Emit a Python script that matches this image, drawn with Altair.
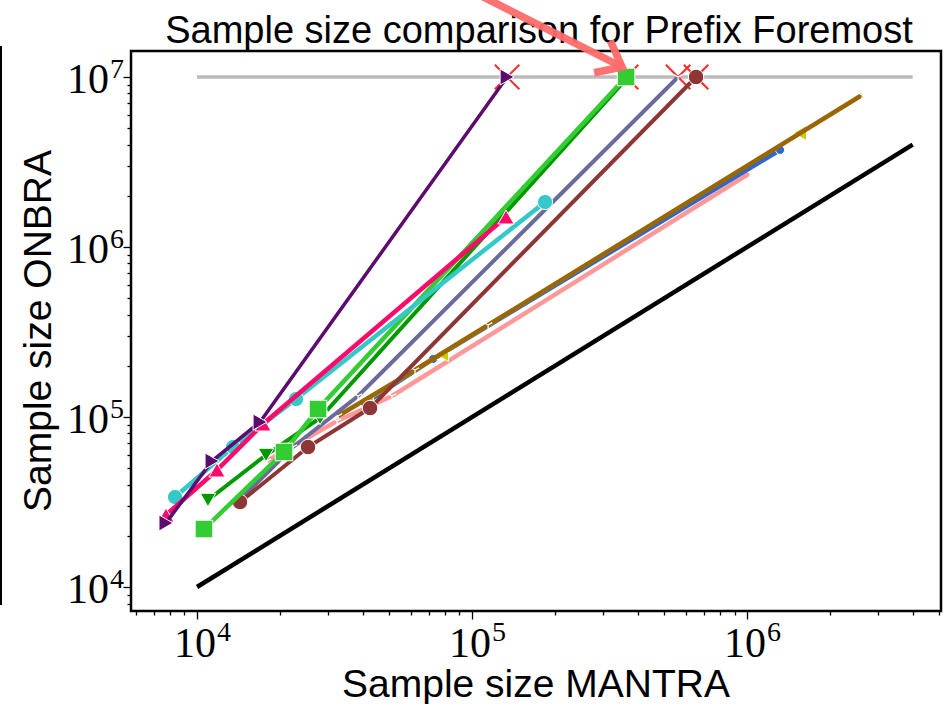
import altair as alt
import pandas as pd

# ---------------- data ----------------
purple_x = [7710, 11340, 16950, 134100]
purple_y = [23800, 55100, 93450, 1.0e7]
pink_x = [7710, 11820, 17380, 132900]
pink_y = [26520, 48780, 90950, 1.501e6]
cyan_x = [8318, 13520, 22910, 184300]
cyan_y = [33840, 66600, 127600, 1.839e6]
lime_x = [10600, 20720, 27540, 363100]
lime_y = [21940, 62260, 111400, 1.0e7]
dgreen_x = [10960, 17820, 28010, 369300]
dgreen_y = [32500, 59770, 98650, 1.0e7]
slate_x = [14330, 22340, 38510, 561300]
slate_y = [32500, 66600, 132900, 1.0e7]
brown_x = [14330, 25330, 42570, 652300]
brown_y = [31620, 66600, 112900, 1.0e7]
olive_x = [32560, 62030, 114400, 2.619e6]
olive_y = [101400, 189000, 347700, 7.838e6]
yellow_x = [41510, 77800, 1.558e6]
yellow_y = [125900, 234800, 4.685e6]
blue_x = [40820, 72150, 1.318e6]
blue_y = [120900, 219400, 3.721e6]
salmon_x = [17970, 32290, 51190, 1.025e6]
salmon_y = [55100, 94740, 132900, 2.724e6]

timeout_x = [134100, 363100, 561300, 652300]
timeout_y = [1.0e7, 1.0e7, 1.0e7, 1.0e7]

diag_x = [1.0e4, 4.0e6]
diag_y = [1.0e4, 4.0e6]
cap_x = [1.0e4, 4.0e6]
cap_y = [1.0e7, 1.0e7]

arrow_x = [96000, 351300]
arrow_y = [3.3e7, 1.145e7]

x_ticks = [6000, 7000, 8000, 9000,
           1e4, 2e4, 3e4, 4e4, 5e4, 6e4, 7e4, 8e4, 9e4,
           1e5, 2e5, 3e5, 4e5, 5e5, 6e5, 7e5, 8e5, 9e5,
           1e6, 2e6, 3e6, 4e6, 5e6]
y_ticks = [8000, 9000,
           1e4, 2e4, 3e4, 4e4, 5e4, 6e4, 7e4, 8e4, 9e4,
           1e5, 2e5, 3e5, 4e5, 5e5, 6e5, 7e5, 8e5, 9e5,
           1e6, 2e6, 3e6, 4e6, 5e6, 6e6, 7e6, 8e6, 9e6,
           1e7]

x_label_vals = [1e4, 1e5, 1e6]
x_label_exp = ["4", "5", "6"]
y_label_vals = [1e4, 1e5, 1e6, 1e7]
y_label_exp = ["4", "5", "6", "7"]

TITLE = "Sample size comparison for Prefix Foremost"
X_TITLE = "Sample size MANTRA"
Y_TITLE = "Sample size ONBRA"

X_DOMAIN = [5754, 5.07e6]
Y_DOMAIN = [7228, 1.422e7]

W, H = 810, 560

# ---------------- styling helpers ----------------
SANS = "Liberation Sans"
SERIF = "Liberation Serif"

major = "abs(log(datum.value)/LN10 - round(log(datum.value)/LN10)) < 0.001"
tick_size = {"condition": {"test": major, "value": 8}, "value": 4}

xaxis = alt.Axis(values=x_ticks, labels=False, title=None, grid=False, domain=False,
                 tickColor="black", tickWidth=1.3, tickSize=tick_size)
yaxis = alt.Axis(values=y_ticks, labels=False, title=None, grid=False, domain=False,
                 tickColor="black", tickWidth=1.3, tickSize=tick_size)

xs = alt.Scale(type="log", domain=X_DOMAIN, nice=False)
ys = alt.Scale(type="log", domain=Y_DOMAIN, nice=False)
X = alt.X("x:Q", scale=xs, axis=xaxis)
Y = alt.Y("y:Q", scale=ys, axis=yaxis)


def frame(xv, yv):
    return pd.DataFrame({"x": xv, "y": yv, "i": list(range(len(xv)))})


def line(xv, yv, color, width=4.5, opacity=1.0):
    return alt.Chart(frame(xv, yv)).mark_line(
        color=color, strokeWidth=width, opacity=opacity, clip=False
    ).encode(x=X, y=Y, order="i:Q")


def pts(xv, yv, color, shape, size, edge="white"):
    return alt.Chart(frame(xv, yv)).mark_point(
        shape=shape, filled=True, fill=color, stroke=edge, strokeWidth=1,
        size=size, opacity=1
    ).encode(x=X, y=Y)


TRI = "M 0 1 L 0 0 M 0 0 L -0.87 -0.5 M 0 0 L 0.87 -0.5"


def tri(xv, yv, size=90):
    return alt.Chart(frame(xv, yv)).mark_point(
        shape=TRI, filled=False, stroke="white", strokeWidth=1.2, size=size, opacity=1
    ).encode(x=X, y=Y)


layers = []
# reference lines
layers.append(line(cap_x, cap_y, "#BBBBBB", 3.5))
layers.append(line(diag_x, diag_y, "black", 4.5))
# timeout crosses
layers.append(alt.Chart(frame(timeout_x, timeout_y)).mark_point(
    shape="M -1 -1 L 1 1 M -1 1 L 1 -1", filled=False, stroke="#FF2A2A",
    strokeWidth=2, size=600, opacity=1).encode(x=X, y=Y))

# series
layers += [line(salmon_x, salmon_y, "#FF9999", 4.5), tri(salmon_x, salmon_y)]
layers += [line(blue_x, blue_y, "#3366CC", 4.5), pts(blue_x, blue_y, "#3366CC", "circle", 80)]
layers += [line(yellow_x, yellow_y, "#CCCC00", 3.5), pts(yellow_x, yellow_y, "#CCCC00", "triangle-left", 230)]
layers += [line(olive_x, olive_y, "#996600", 4.5), tri(olive_x, olive_y)]
layers += [line(slate_x, slate_y, "#6B6B9B", 4), tri(slate_x, slate_y)]
layers += [line(brown_x, brown_y, "#8E3535", 4), pts(brown_x, brown_y, "#8E3535", "circle", 240)]
layers += [line(dgreen_x, dgreen_y, "#009900", 4), pts(dgreen_x, dgreen_y, "#009900", "triangle-down", 240)]
layers += [line(lime_x, lime_y, "#33CC33", 4.5), pts(lime_x, lime_y, "#33CC33", "square", 310)]
layers += [line(cyan_x, cyan_y, "#35C8C8", 4.5), pts(cyan_x, cyan_y, "#35C8C8", "circle", 230)]
layers += [line(pink_x, pink_y, "#FF0A6A", 4.5), pts(pink_x, pink_y, "#FF0A6A", "triangle-up", 260)]
layers += [line(purple_x, purple_y, "#5C0B6E", 3.5), pts(purple_x, purple_y, "#5C0B6E", "triangle-right", 260)]

# tick labels (10 with superscript exponent)
xl = pd.DataFrame({"x": x_label_vals, "e": x_label_exp})
layers.append(alt.Chart(xl).mark_text(font=SERIF, fontSize=42, align="right",
                                      baseline="alphabetic", dx=19, color="black",
                                      text="10").encode(x=X, y=alt.value(H + 46)))
layers.append(alt.Chart(xl).mark_text(font=SERIF, fontSize=28, align="left",
                                      baseline="alphabetic", dx=20, color="black").encode(
    x=X, y=alt.value(H + 30), text="e:N"))
yl = pd.DataFrame({"y": y_label_vals, "e": y_label_exp})
layers.append(alt.Chart(yl).mark_text(font=SERIF, fontSize=42, align="right",
                                      baseline="alphabetic", dy=16, color="black",
                                      text="10").encode(y=Y, x=alt.value(-22)))
layers.append(alt.Chart(yl).mark_text(font=SERIF, fontSize=28, align="left",
                                      baseline="alphabetic", dy=1, color="black").encode(
    y=Y, x=alt.value(-21), text="e:N"))

# titles
tdf = pd.DataFrame({"t": [TITLE]})
layers.append(alt.Chart(tdf).mark_text(font=SANS, fontSize=38, align="center",
                                       baseline="alphabetic", color="black").encode(
    text="t:N", x=alt.value(W / 2 + 3), y=alt.value(-8)))
layers.append(alt.Chart(pd.DataFrame({"t": [X_TITLE]})).mark_text(
    font=SANS, fontSize=39, align="center", baseline="alphabetic", color="black").encode(
    text="t:N", x=alt.value(W / 2), y=alt.value(H + 86)))
layers.append(alt.Chart(pd.DataFrame({"t": [Y_TITLE]})).mark_text(
    font=SANS, fontSize=39, align="center", baseline="alphabetic", color="black",
    angle=270).encode(text="t:N", x=alt.value(-80), y=alt.value(H / 2)))

# annotation arrow (drawn over the title, as in the reference)
adf = frame(arrow_x, arrow_y)
layers.append(alt.Chart(adf).mark_line(color="#FF6B6B", strokeWidth=7.5, clip=False,
                                       opacity=0.95).encode(x=X, y=Y, order="i:Q"))
layers.append(alt.Chart(adf.iloc[[1]]).mark_point(
    shape="M -1 -0.8 L 0 0 L -1 0.8", filled=False, stroke="#FF6B6B", strokeWidth=7.5,
    size=2000, angle=27, opacity=0.95).encode(x=X, y=Y))

# thin border line of the neighbouring panel at the far left
layers.append(alt.Chart(pd.DataFrame({"k": [0]})).mark_rule(color="black", strokeWidth=2).encode(
    x=alt.value(-130), y=alt.value(-5), y2=alt.value(554)))

chart = alt.layer(*layers).properties(
    width=W, height=H,
    autosize=alt.AutoSizeParams(type="none"),
    padding={"left": 131, "top": 51, "right": 5, "bottom": 93},
    background="white",
).configure_view(stroke="black", strokeWidth=2.5)

chart.save("out.html", embed_options={"renderer": "svg", "actions": False})
